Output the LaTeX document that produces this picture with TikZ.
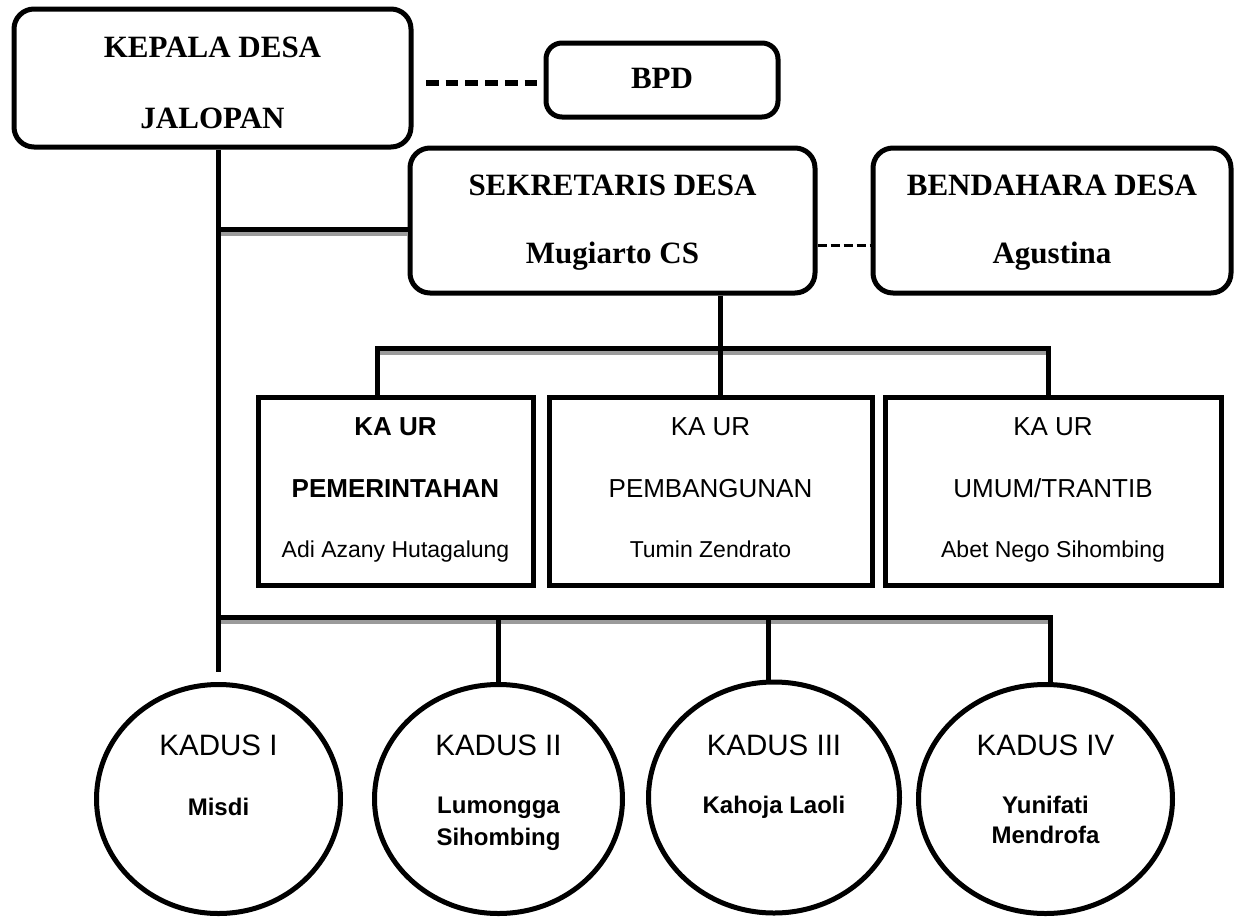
\documentclass[tikz,border=0pt]{standalone}
\usepackage{fontspec}
\setmainfont{Liberation Serif}
\newfontfamily\arialf{Liberation Sans}
\usetikzlibrary{shapes.geometric}
\definecolor{shadowgrey}{RGB}{155,155,155}
\newcommand{\serifbig}{\fontsize{31}{31}\selectfont\bfseries}
\newcommand{\kaurfont}{\arialf\fontsize{26}{26}\selectfont}
\newcommand{\namefont}{\arialf\fontsize{23}{23}\selectfont}
\newcommand{\ovalname}{\arialf\fontsize{24}{24}\selectfont\bfseries}
\newcommand{\kadusfont}{\arialf\fontsize{29.5}{29.5}\selectfont}
\begin{document}
\begin{tikzpicture}[x=1pt,y=-1pt,
  rbox/.style={draw, line width=5pt, rounded corners=20pt, inner sep=0pt},
  sqbox/.style={draw, line width=5pt, inner sep=0pt},
  oval/.style={draw, ellipse, line width=5pt, inner sep=0pt},
  conn/.style={line width=5pt, line join=miter},
  shadowln/.style={line width=4.5pt, draw=shadowgrey, transform canvas={yshift=-4.5pt}},
  dashthick/.style={line width=6.5pt, dash pattern=on 12.7pt off 7pt},
  dashthin/.style={line width=3pt, dash pattern=on 9pt off 4pt},
  lbl/.style={anchor=base, inner sep=0pt}
]
\useasboundingbox (0,0) rectangle (1243,919);

% boxes
\node[rbox, minimum width=397pt, minimum height=138pt] (kepala) at (212.5,78) {};
\node[rbox, minimum width=232pt, minimum height=74pt, rounded corners=16pt] (bpd) at (662,80) {};
\node[rbox, minimum width=405pt, minimum height=145pt] (sek) at (612.5,220.5) {};
\node[rbox, minimum width=358pt, minimum height=145pt] (bend) at (1052,220.5) {};
\node[sqbox, minimum width=275pt, minimum height=188pt] (kaur1) at (395.5,491) {};
\node[sqbox, minimum width=323pt, minimum height=188pt] (kaur2) at (710.5,491) {};
\node[sqbox, minimum width=336pt, minimum height=188pt] (kaur3) at (1053,491) {};
\node[oval, minimum width=244pt, minimum height=229pt] (e1) at (218.5,799) {};
\node[oval, minimum width=248pt, minimum height=229pt] (e2) at (498.5,799) {};
\node[oval, minimum width=251pt, minimum height=231pt] (e3) at (774,797.5) {};
\node[oval, minimum width=254pt, minimum height=229pt] (e4) at (1045.5,799) {};

% labels
\node[lbl] (tkep1) at (212.5,57) {\serifbig KEPALA DESA};
\node[lbl] (tkep2) at (212.5,128) {\serifbig JALOPAN};
\node[lbl] (tbpd) at (662,88) {\serifbig BPD};
\node[lbl] (tsek1) at (612.5,195) {\serifbig SEKRETARIS DESA};
\node[lbl] (tsek2) at (612.5,263) {\serifbig Mugiarto CS};
\node[lbl] (tben1) at (1052,195) {\serifbig BENDAHARA DESA};
\node[lbl] (tben2) at (1052,263) {\serifbig Agustina};

\node[lbl] (tk1a) at (395.5,435) {\kaurfont\bfseries KA UR};
\node[lbl] (tk1b) at (395.5,497) {\kaurfont\bfseries PEMERINTAHAN};
\node[lbl] (tk1c) at (395.5,557) {\namefont Adi Azany Hutagalung};
\node[lbl] (tk2a) at (710.5,435) {\kaurfont KA UR};
\node[lbl] (tk2b) at (710.5,497) {\kaurfont PEMBANGUNAN};
\node[lbl] (tk2c) at (710.5,557) {\namefont Tumin Zendrato};
\node[lbl] (tk3a) at (1053,435) {\kaurfont KA UR};
\node[lbl] (tk3b) at (1053,497) {\kaurfont UMUM/TRANTIB};
\node[lbl] (tk3c) at (1053,557) {\namefont Abet Nego Sihombing};

\node[lbl] (td1a) at (218.5,755) {\kadusfont KADUS I};
\node[lbl] (td1b) at (218.5,815) {\ovalname Misdi};
\node[lbl] (td2a) at (498.5,755) {\kadusfont KADUS II};
\node[lbl] (td2b) at (498.5,813) {\ovalname Lumongga};
\node[lbl] (td2c) at (498.5,845) {\ovalname Sihombing};
\node[lbl] (td3a) at (774,755) {\kadusfont KADUS III};
\node[lbl] (td3b) at (774,813) {\ovalname Kahoja Laoli};
\node[lbl] (td4a) at (1045.5,755) {\kadusfont KADUS IV};
\node[lbl] (td4b) at (1045.5,813) {\ovalname Yunifati};
\node[lbl] (td4c) at (1045.5,843) {\ovalname Mendrofa};

% junction coordinates
\coordinate (v1) at (218,229);
\coordinate (v2) at (218,617);
\coordinate (v3) at (218,672);
\coordinate (b1) at (377,348);
\coordinate (b2) at (720,348);
\coordinate (b3) at (1048.5,348);
\coordinate (c2) at (498,617);
\coordinate (c3) at (768,617);
\coordinate (c4) at (1050,617);
\coordinate (d0) at (426,83);
\coordinate (dd) at (0,245);

% shadows
\draw[shadowln] (v1) -- (v1 -| sek.west);
\draw[shadowln] (b1) -- (b3);
\draw[shadowln] (v2) -- (c4);

% connectors
\draw[conn] (kepala.south -| v1) -- (v3);
\draw[conn] (v1) -- (v1 -| sek.west);
\draw[conn] (kaur1.north -| b1) -- (b1) -- (b3) -- (kaur3.north -| b3);
\draw[conn] (sek.south -| b2) -- (kaur2.north -| b2);
\draw[conn] (v2) -- (c4) -- (e4.north -| c4);
\draw[conn] (c2) -- (e2.north -| c2);
\draw[conn] (c3) -- (e3.north -| c3);

% dashed links
\draw[dashthick] (d0) -- (d0 -| bpd.west);
\draw[dashthin] (sek.east |- dd) -- (bend.west |- dd);
\end{tikzpicture}
\end{document}
